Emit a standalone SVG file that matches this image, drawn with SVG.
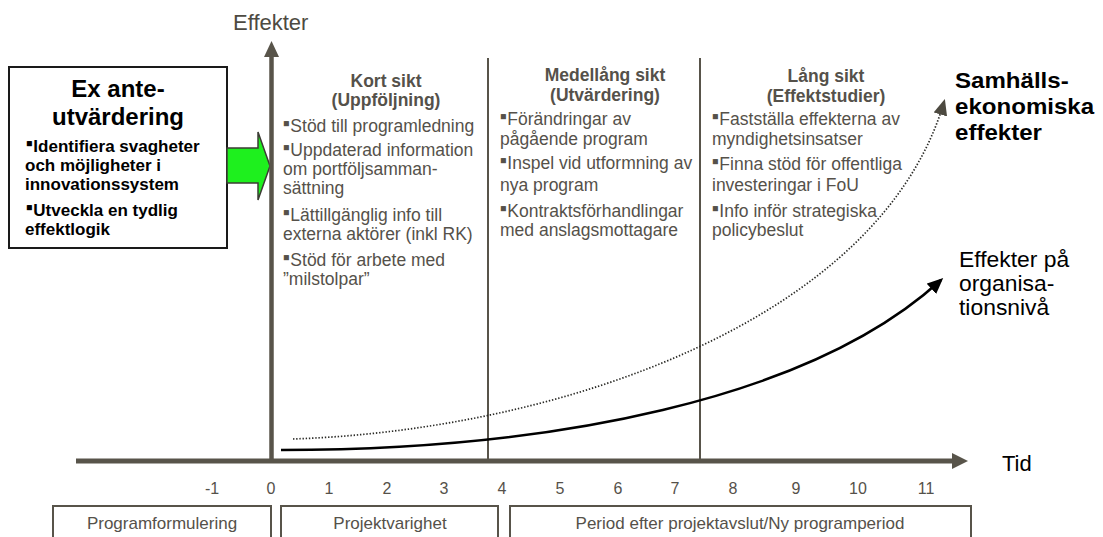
<svg xmlns="http://www.w3.org/2000/svg" width="1103" height="537" viewBox="0 0 1103 537">
<defs>
<style>
text{font-family:"Liberation Sans",Arial,Helvetica,sans-serif}
.g{fill:#55514a;font-size:17.5px}
.gb{fill:#55514a;font-size:17.5px;font-weight:bold;text-anchor:middle}
.k{fill:#000;font-size:17px;font-weight:bold}
.blt{font-size:10.5px}
.ax{fill:#58544a}
.axl{stroke:#58544a;fill:none}
.tick{fill:#55514a;font-size:16px;text-anchor:middle}
.box{fill:#fff;stroke:#58544a;stroke-width:2}
.boxt{fill:#55514a;font-size:17px;text-anchor:middle}
</style>
<marker id="ah-solid" markerUnits="userSpaceOnUse" viewBox="0 0 16 14" markerWidth="16" markerHeight="14" refX="13" refY="7" orient="auto"><path d="M0,0 L16,7 L0,14 z" fill="#000"/></marker>
<marker id="ah-dot" markerUnits="userSpaceOnUse" viewBox="0 0 16 14" markerWidth="16" markerHeight="14" refX="13" refY="7" orient="auto"><path d="M0,0 L16,7 L0,14 z" fill="#4d4a40"/></marker>
</defs>
<rect width="1103" height="537" fill="#fff"/>

<g id="exante">
<rect x="9" y="67" width="218" height="181" fill="#fff" stroke="#1a1a1a" stroke-width="2"/>
<text x="118" y="97" font-size="24" font-weight="bold" text-anchor="middle" fill="#000">Ex ante-</text>
<text x="118" y="125" font-size="24" font-weight="bold" text-anchor="middle" fill="#000">utvärdering</text>
<text x="25" y="152" class="k"><tspan class="blt" dx="1" dy="-5">■</tspan><tspan dy="5" dx="1">Identifiera svagheter</tspan></text>
<text x="25" y="171" class="k">och möjligheter i</text>
<text x="25" y="190" class="k">innovationssystem</text>
<text x="25" y="216" class="k"><tspan class="blt" dx="1" dy="-5">■</tspan><tspan dy="5" dx="1">Utveckla en tydlig</tspan></text>
<text x="25" y="235" class="k">effektlogik</text>
</g>

<g id="green-arrow">
<polygon points="227,148 258,148 258,132 270,166 258,200 258,183 227,183" fill="#1ef01e" stroke="#3c3c34" stroke-width="1.5"/>
</g>

<g id="axes">
<line x1="76" y1="461" x2="954" y2="461" class="axl" stroke-width="5"/>
<polygon points="952,453 968,461 952,469" class="ax"/>
<line x1="271.5" y1="463" x2="271.5" y2="55" class="axl" stroke-width="4.5"/>
<polygon points="264,57 271.5,41 279,57" class="ax"/>
<line x1="488" y1="58" x2="488" y2="461" class="axl" stroke-width="2"/>
<line x1="700" y1="58" x2="700" y2="461" class="axl" stroke-width="2"/>
<text x="233" y="30" font-size="22" fill="#4d4a42">Effekter</text>
<text x="1002" y="471" font-size="22" fill="#000">Tid</text>
</g>

<g id="ticks">
<text class="tick" x="212" y="494">-1</text>
<text class="tick" x="271" y="494">0</text>
<text class="tick" x="329" y="494">1</text>
<text class="tick" x="387" y="494">2</text>
<text class="tick" x="444" y="494">3</text>
<text class="tick" x="502" y="494">4</text>
<text class="tick" x="560" y="494">5</text>
<text class="tick" x="618" y="494">6</text>
<text class="tick" x="675" y="494">7</text>
<text class="tick" x="733" y="494">8</text>
<text class="tick" x="796" y="494">9</text>
<text class="tick" x="858" y="494">10</text>
<text class="tick" x="926" y="494">11</text>
</g>

<g id="col-kort">
<text class="gb" x="386" y="87">Kort sikt</text>
<text class="gb" x="386" y="106">(Uppföljning)</text>
<text class="g" x="283" y="132"><tspan class="blt" dy="-5">■</tspan><tspan dy="5" dx="1">Stöd till programledning</tspan></text>
<text class="g" x="283" y="156"><tspan class="blt" dy="-5">■</tspan><tspan dy="5" dx="1">Uppdaterad information</tspan></text>
<text class="g" x="283" y="175">om portföljsamman-</text>
<text class="g" x="283" y="194">sättning</text>
<text class="g" x="283" y="221"><tspan class="blt" dy="-5">■</tspan><tspan dy="5" dx="1">Lättillgänglig info till</tspan></text>
<text class="g" x="283" y="240">externa aktörer (inkl RK)</text>
<text class="g" x="283" y="266"><tspan class="blt" dy="-5">■</tspan><tspan dy="5" dx="1">Stöd för arbete med</tspan></text>
<text class="g" x="283" y="285">”milstolpar”</text>
</g>

<g id="col-medel">
<text class="gb" x="605" y="81">Medellång sikt</text>
<text class="gb" x="605" y="101">(Utvärdering)</text>
<text class="g" x="500" y="125"><tspan class="blt" dy="-5">■</tspan><tspan dy="5" dx="1">Förändringar av</tspan></text>
<text class="g" x="500" y="145">pågående program</text>
<text class="g" x="500" y="169"><tspan class="blt" dy="-5">■</tspan><tspan dy="5" dx="1">Inspel vid utformning av</tspan></text>
<text class="g" x="500" y="191">nya program</text>
<text class="g" x="500" y="217"><tspan class="blt" dy="-5">■</tspan><tspan dy="5" dx="1">Kontraktsförhandlingar</tspan></text>
<text class="g" x="500" y="236">med anslagsmottagare</text>
</g>

<g id="col-lang">
<text class="gb" x="826" y="82">Lång sikt</text>
<text class="gb" x="826" y="102">(Effektstudier)</text>
<text class="g" x="712" y="125"><tspan class="blt" dy="-5">■</tspan><tspan dy="5" dx="1">Fastställa effekterna av</tspan></text>
<text class="g" x="712" y="145">myndighetsinsatser</text>
<text class="g" x="712" y="170"><tspan class="blt" dy="-5">■</tspan><tspan dy="5" dx="1">Finna stöd för offentliga</tspan></text>
<text class="g" x="712" y="191">investeringar i FoU</text>
<text class="g" x="712" y="217"><tspan class="blt" dy="-5">■</tspan><tspan dy="5" dx="1">Info inför strategiska</tspan></text>
<text class="g" x="712" y="236">policybeslut</text>
</g>

<g id="connectors">
<path d="M293,439 C560,430 880,320 944,102" fill="none" stroke="#2a2a26" stroke-width="1.7" stroke-dasharray="1.4 1.8" marker-end="url(#ah-dot)"/>
<path d="M281,450 C550,450 810,400 941,280" fill="none" stroke="#000" stroke-width="2.5" marker-end="url(#ah-solid)"/>
</g>

<g id="label-samhalls" transform="translate(955,0) scale(1.07,1)">
<text x="0" y="88" font-size="22.5" font-weight="bold" fill="#000">Samhälls-</text>
<text x="0" y="114" font-size="22.5" font-weight="bold" fill="#000">ekonomiska</text>
<text x="0" y="140" font-size="22.5" font-weight="bold" fill="#000">effekter</text>
</g>

<g id="label-org" transform="translate(959,0) scale(1.04,1)">
<text x="0" y="267" font-size="22" fill="#000">Effekter på</text>
<text x="0" y="291" font-size="22" fill="#000">organisa-</text>
<text x="0" y="315" font-size="22" fill="#000">tionsnivå</text>
</g>

<g id="period-1">
<rect class="box" x="53" y="506" width="218" height="45"/>
<text class="boxt" x="162" y="529">Programformulering</text>
</g>
<g id="period-2">
<rect class="box" x="281" y="506" width="217" height="45"/>
<text class="boxt" x="390" y="529">Projektvarighet</text>
</g>
<g id="period-3">
<rect class="box" x="510" y="506" width="461" height="45"/>
<text class="boxt" x="740" y="529">Period efter projektavslut/Ny programperiod</text>
</g>
</svg>
